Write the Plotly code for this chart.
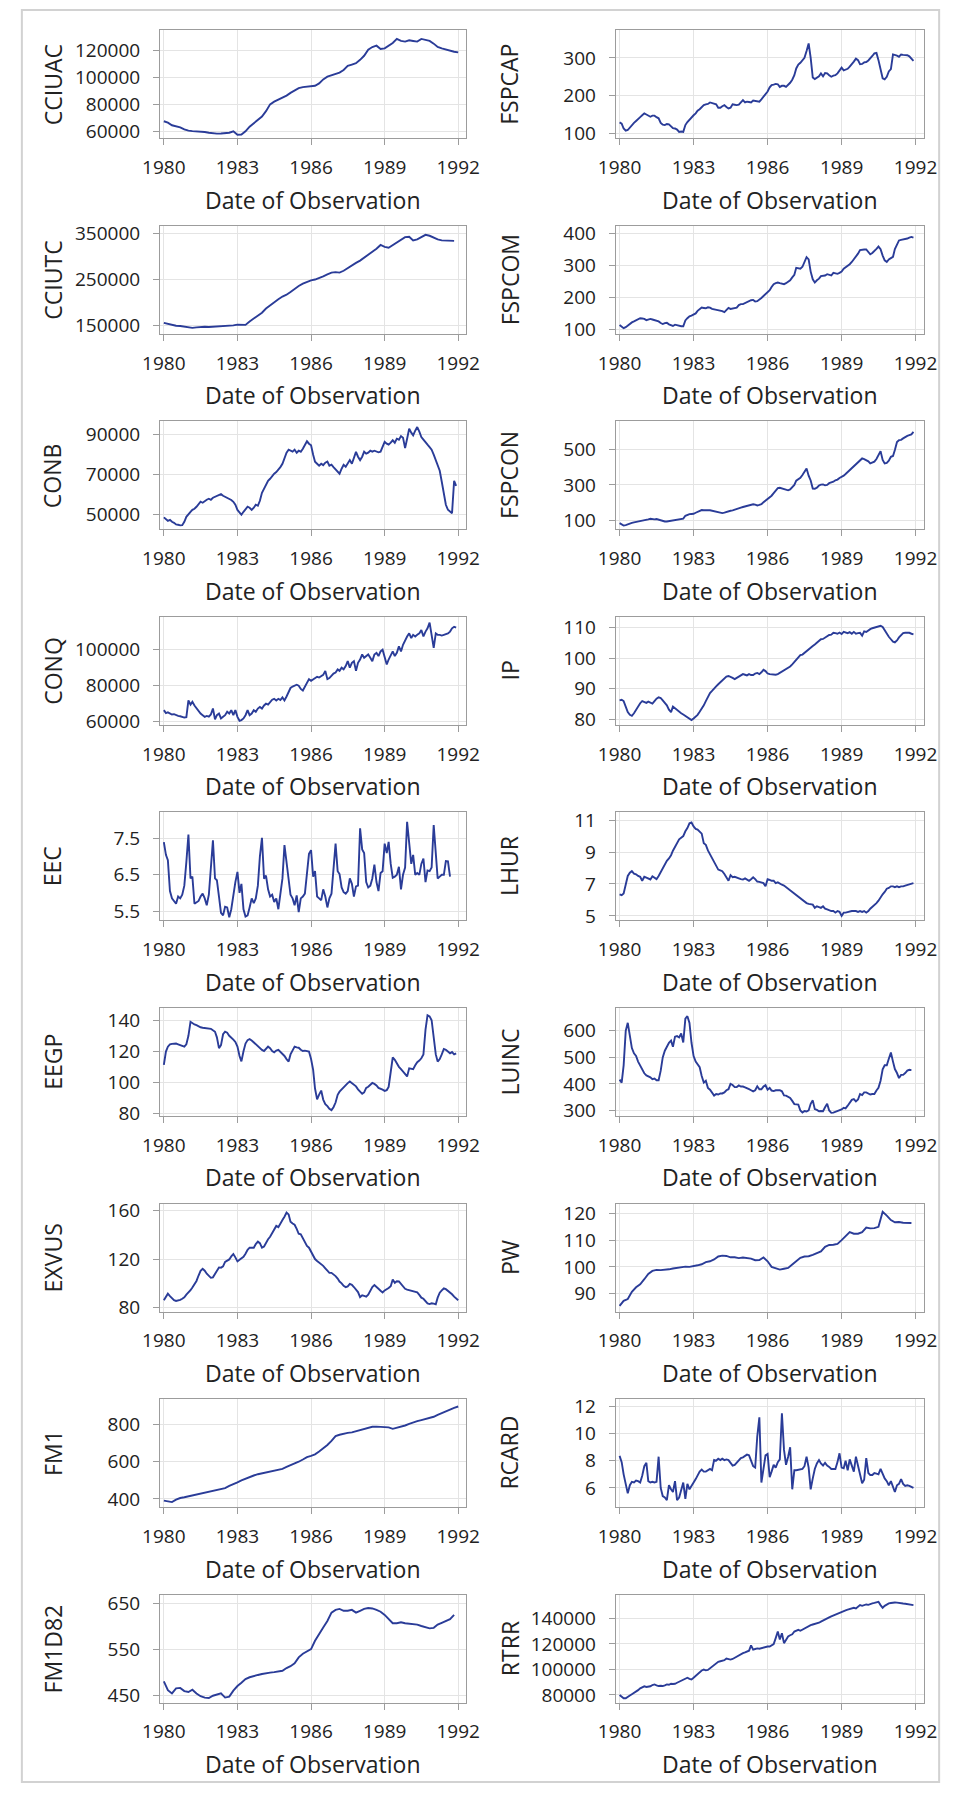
import pandas as pd
import plotly.graph_objects as go

# ---- monthly economic indicators, observations from January 1980 ----
# (values sampled every month unless a two-month step is given in PANELS)

CCIUAC = [67500, 66500, 64500, 63800, 63000, 61500,
          60500, 60200, 60000, 60100, 59500, 59000,
          58500, 58300, 58400, 58600, 59000, 60000,
          57500, 57600, 60000, 63500, 66000, 68500,
          71000, 75000, 80000, 82000, 83500, 85000,
          86500, 88500, 90500, 92000, 92800, 93200,
          93500, 93800, 95500, 98500, 100500, 101500,
          102000, 103500, 105500, 108500, 109500, 110500,
          113000, 116000, 120500, 122500, 123500, 121000,
          121500, 123500, 125500, 128500, 127000, 126500,
          127500, 127000, 126500, 128500, 128000, 127000,
          125000, 122500, 121500, 120500, 119500, 119000,
          118500]

CCIUTC = [155000, 153000, 150000, 148500, 148000, 146500,
          145000, 144000, 145000, 146000, 146500, 146000,
          146500, 147000, 146500, 147500, 148500, 149500,
          151000, 150000, 150500, 158000, 165000, 171000,
          177000, 186000, 193000, 200000, 206000, 212000,
          216000, 222000, 229000, 235000, 240000, 244000,
          247000, 249000, 252000, 256000, 260000, 264000,
          265000, 264000, 268000, 274000, 280000, 285000,
          290000, 296000, 302000, 309000, 316000, 324000,
          320000, 318000, 324000, 330000, 336000, 341000,
          342000, 334000, 336000, 341000, 346000, 344000,
          339000, 336000, 334000, 334000, 334000, 333000]

CONB = [48700, 48000, 47000, 47500, 46500, 46000, 45200, 45000, 44700, 44800, 46500, 49000,
        50000, 51500, 52500, 53000, 54000, 55500, 56500, 56000, 57000, 57500, 58000, 57500,
        58500, 59000, 59500, 60000, 60300, 59500, 59000, 58500, 57800, 57400, 56500, 55000,
        52400, 51000, 50000, 51500, 53000, 54000, 53500, 52400, 53500, 55000, 54500, 57000,
        61000, 63200, 65000, 67000, 68000, 69500, 70500, 71300, 72500, 73800, 75500, 78000,
        81000, 82500, 82000, 81500, 82500, 81000, 82000, 81500, 83000, 85000, 86700, 85500,
        84700, 80000, 76500, 75500, 74500, 75500, 74800, 76000, 76600, 74500, 75000, 73800,
        72500, 71500, 70500, 73000, 75000, 74000, 76000, 77300, 75500, 78500, 81400, 79000,
        77300, 79000, 81500, 80500, 81000, 82000, 81500, 82000, 81500, 81200, 81500, 84000,
        86400, 85500, 85000, 86000, 87200, 86000, 88000, 87500, 89300, 88500, 83300, 88000,
        93000, 91000, 89700, 92000, 93800, 91500, 88800, 87500, 86000, 85000, 83800, 82500,
        80000, 77300, 75000, 72000, 66500, 60000, 55000, 52500, 51600, 50800, 67000, 64400]

CONQ = [66400, 64800, 65200, 64500, 64000, 64200, 63600, 63200, 63000, 62700, 62300, 62500,
        71800, 69500, 71000, 69000, 67300, 65500, 64500, 63600, 62700, 63200, 62800, 64000,
        67300, 61300, 63600, 64500, 61800, 62700, 63600, 65500, 64500, 66400, 63600, 66400,
        62700, 60500, 60900, 61800, 63600, 66400, 63600, 64500, 66400, 65500, 67300, 68200,
        67300, 69000, 70000, 69500, 71000, 72200, 72700, 71800, 72700, 72000, 73500, 71800,
        74000, 76400, 78700, 79500, 80000, 80500, 80000, 78200, 77300, 79500, 81800, 83600,
        82700, 83600, 84200, 84900, 84500, 85500, 86000, 88200, 83600, 84200, 85500, 86700,
        87300, 89000, 88200, 90000, 89100, 90900, 93600, 90000, 92700, 93600, 88200, 92700,
        94500, 97300, 95500, 96400, 97300, 95500, 93600, 97300, 98200, 96400, 99000, 100000,
        95500, 91800, 94500, 97300, 99000, 96400, 98200, 101800, 99000, 102700, 105500, 107300,
        109000, 106400, 108200, 107300, 108200, 109000, 110900, 107300, 110000, 111800, 115000, 108200,
        101000, 109000, 108200, 108200, 107800, 108200, 108600, 109000, 110000, 111800, 112700, 112200]

EEC = [7.40, 7.05, 6.90, 6.05, 5.85, 5.78, 5.70, 5.90, 5.85, 5.95, 6.20, 6.85,
       7.61, 6.40, 6.45, 5.70, 5.73, 5.78, 5.90, 5.98, 5.85, 5.66, 5.95, 6.70,
       7.45, 6.40, 6.35, 5.90, 5.45, 5.38, 5.62, 5.60, 5.33, 5.55, 5.98, 6.30,
       6.58, 6.00, 6.25, 5.55, 5.35, 5.38, 5.60, 5.85, 5.72, 5.85, 6.20, 7.00,
       7.52, 6.39, 6.48, 6.10, 5.90, 5.95, 5.75, 5.85, 5.55, 5.93, 6.40, 7.32,
       6.90, 6.35, 5.95, 5.85, 5.66, 5.93, 5.47, 5.85, 5.90, 5.98, 6.60, 7.08,
       7.18, 6.45, 6.60, 5.90, 5.85, 5.80, 6.10, 5.90, 5.60, 5.85, 5.98, 6.70,
       7.36, 6.60, 6.52, 6.15, 6.02, 5.98, 6.05, 6.40, 6.25, 5.90, 6.18, 6.20,
       7.78, 7.20, 7.10, 6.30, 6.15, 6.20, 6.40, 6.78, 6.30, 6.05, 6.55, 6.60,
       7.36, 7.10, 7.41, 6.80, 6.42, 6.45, 6.50, 6.72, 6.10, 6.50, 6.70, 7.96,
       7.40, 6.80, 7.05, 6.50, 6.55, 6.50, 6.80, 6.95, 6.30, 6.62, 6.60, 6.70,
       7.87, 6.95, 6.40, 6.45, 6.50, 6.50, 6.88, 6.87, 6.45]

EEGP = [111.3, 119.8, 123.0, 124.5, 124.8, 125.0, 125.0, 124.5, 124.0, 123.0, 123.0, 124.5,
        130.0, 139.0, 138.0, 137.3, 136.8, 136.0, 135.5, 135.2, 135.0, 135.0, 134.8, 134.5,
        133.5, 132.6, 129.0, 122.0, 124.0, 131.0, 132.6, 132.0, 130.0, 129.0, 127.5, 126.0,
        123.0, 117.0, 113.5, 120.0, 125.0, 127.2, 127.8, 127.0, 125.8, 124.5, 123.0, 122.0,
        120.9, 120.2, 121.5, 123.0, 122.0, 120.2, 119.4, 120.5, 120.9, 119.5, 118.7, 117.0,
        115.0, 113.4, 118.0, 121.0, 123.0, 122.5, 122.3, 121.0, 120.2, 120.4, 120.0, 119.8,
        115.0, 108.0, 96.0, 89.0, 92.1, 94.7, 88.9, 86.0, 84.7, 83.0, 82.1, 84.0,
        87.0, 92.0, 94.0, 95.5, 96.4, 98.0, 99.5, 100.6, 99.5, 98.5, 97.4, 95.5,
        94.0, 92.6, 93.5, 96.4, 97.2, 98.5, 99.6, 99.0, 98.0, 96.4, 96.0, 95.3,
        94.5, 95.0, 97.0, 106.0, 116.0, 114.5, 112.0, 110.0, 108.5, 107.0, 105.0, 103.8,
        109.0, 108.8, 108.5, 111.0, 113.0, 114.0, 115.5, 118.0, 134.0, 143.2, 142.5, 140.0,
        130.0, 118.0, 113.4, 115.0, 118.0, 121.5, 121.0, 119.5, 118.7, 119.5, 118.0, 118.7]

EXVUS = [86.0, 88.7, 91.5, 89.5, 87.8, 86.2, 85.5, 85.8, 86.4, 87.3, 88.5, 90.7,
         92.3, 94.3, 96.6, 99.0, 102.0, 106.5, 110.3, 112.0, 110.5, 108.0, 106.2, 104.6,
         105.0, 107.5, 110.5, 113.2, 113.0, 114.0, 117.8, 119.2, 119.8, 122.3, 124.2, 121.5,
         118.2, 119.6, 121.0, 122.0, 124.5, 127.8, 129.5, 129.5, 129.5, 132.5, 134.5, 133.2,
         129.5, 130.5, 134.0, 136.5, 138.5, 141.5, 145.5, 147.5, 146.5, 149.8, 152.4, 155.1,
         158.6, 157.0, 151.0, 149.5, 148.5, 145.0, 141.0, 140.5, 137.5, 133.5, 131.0, 129.5,
         126.5, 123.7, 120.1, 118.5, 117.3, 116.0, 114.5, 112.5, 110.5, 108.7, 108.7, 107.6,
         106.0, 104.0, 101.5, 100.0, 98.0, 96.9, 97.5, 99.5, 98.8, 97.0, 95.0, 92.8,
         88.7, 90.2, 89.6, 89.0, 90.7, 93.5, 97.0, 98.6, 97.4, 95.5, 93.9, 92.5,
         94.2, 95.0, 96.2, 97.7, 103.2, 100.5, 101.8, 101.6, 99.5, 97.0, 95.5, 94.8,
         94.2, 94.0, 93.5, 92.8, 92.5, 90.5, 88.2, 87.3, 85.5, 83.5, 82.9, 83.5,
         83.3, 82.7, 88.2, 92.3, 94.2, 95.8, 95.2, 93.9, 92.5, 91.0, 89.0, 87.5,
         86.0]

FM1 = [391, 389, 383, 396, 405, 409, 414, 419, 422, 428, 432, 438,
       444, 448, 451, 458, 470, 478, 489, 500, 510, 519, 526, 533,
       538, 545, 550, 556, 560, 562, 572, 580, 590, 600, 612, 625,
       632, 640, 655, 672, 690, 712, 738, 745, 752, 755, 758, 764,
       770, 778, 783, 788, 789, 789, 788, 785, 777, 782, 787, 795,
       804, 812, 818, 824, 830, 835, 842, 852, 862, 870, 880, 890,
       897]

FM1D82 = [481, 462, 455, 466, 467, 460, 458, 463, 455, 449, 446, 445,
          450, 452, 455, 446, 448, 461, 471, 478, 486, 490, 493, 495,
          497, 499, 500, 501, 502, 504, 510, 514, 520, 533, 541, 546,
          551, 569, 585, 598, 612, 630, 636, 638, 634, 634, 636, 630,
          634, 638, 640, 639, 636, 632, 625, 617, 607, 607, 609, 607,
          606, 605, 604, 601, 598, 596, 597, 604, 608, 612, 616, 625]

FSPCAP = [129, 126, 113, 107, 109, 116, 122, 128, 133, 139, 143, 148,
          153, 150, 146, 144, 147, 147, 143, 140, 128, 123, 122, 125,
          124, 118, 114, 113, 110, 104, 105, 104, 122, 130, 137, 143,
          148, 153, 160, 164, 170, 175, 177, 178, 182, 181, 178, 177,
          168, 168, 172, 175, 170, 166, 168, 177, 176, 175, 176, 183,
          188, 182, 184, 183, 182, 187, 186, 184, 184, 190, 197, 205,
          211, 222, 228, 229, 231, 230, 223, 226, 226, 223, 228, 234,
          242, 254, 272, 282, 287, 293, 300, 318, 338, 300, 248, 244,
          247, 251, 259, 251, 260, 259, 254, 250, 253, 254, 259, 267,
          274, 267, 268, 271, 277, 283, 290, 298, 294, 283, 284, 288,
          289, 293, 298, 305, 312, 313, 294, 266, 246, 243, 250, 264,
          270, 309, 308, 306, 303, 309, 308, 307, 307, 304, 299, 292]

FSPCOM = [114, 110, 104, 107, 112, 118, 122, 125, 128, 132, 135, 134,
          133, 129, 132, 133, 131, 129, 127, 125, 120, 117, 120, 121,
          116, 112, 111, 115, 113, 111, 110, 110, 128, 135, 141, 143,
          146, 150, 158, 164, 168, 167, 166, 169, 168, 164, 163, 162,
          159, 158, 157, 154, 162, 167, 164, 166, 166, 168, 176, 179,
          179, 182, 184, 189, 191, 192, 187, 188, 192, 198, 204, 210,
          216, 222, 232, 241, 244, 246, 244, 243, 241, 244, 248, 253,
          262, 270, 292, 290, 289, 295, 308, 325, 318, 280, 256, 246,
          253, 258, 266, 266, 268, 272, 270, 268, 276, 275, 273, 276,
          280, 289, 293, 297, 303, 310, 318, 326, 336, 347, 349, 349,
          349, 340, 334, 338, 343, 351, 358, 350, 330, 315, 310, 318,
          322, 326, 350, 366, 377, 379, 380, 380, 383, 386, 388, 386]

FSPCON = [87, 79, 74, 76, 81, 85, 88, 91, 93, 94, 96, 98,
          101, 105, 108, 111, 108, 108, 110, 106, 100, 96, 96, 96,
          98, 100, 100, 104, 106, 106, 108, 112, 128, 133, 137, 138,
          139, 145, 150, 156, 160, 159, 157, 159, 159, 156, 154, 150,
          147, 143, 143, 146, 150, 156, 156, 158, 161, 164, 166, 173,
          177, 180, 184, 187, 189, 192, 190, 186, 189, 193, 203, 212,
          220, 230, 240, 254, 266, 282, 284, 280, 276, 270, 270, 275,
          290, 300, 324, 330, 340, 356, 378, 392, 352, 325, 280, 279,
          285, 297, 302, 303, 298, 300, 310, 313, 318, 326, 330, 339,
          345, 352, 361, 372, 380, 392, 405, 415, 426, 440, 448, 444,
          440, 432, 421, 425, 430, 445, 465, 489, 440, 420, 423, 435,
          457, 462, 495, 540, 550, 552, 560, 568, 574, 578, 582, 596]

IP = [86.2, 86.4, 86.0, 84.0, 82.4, 81.5, 81.2, 82.0, 83.2, 84.3, 85.3, 86.0,
      85.7, 85.4, 85.8, 85.5, 85.2, 86.0, 86.8, 87.2, 87.0, 86.2, 85.4, 84.6,
      83.2, 82.4, 84.2, 83.6, 83.0, 82.5, 82.0, 81.6, 81.1, 80.6, 80.2, 79.8,
      80.3, 80.8, 81.5, 82.5, 83.5, 84.6, 86.0, 87.5, 88.6, 89.3, 89.9, 90.8,
      91.5, 92.2, 92.8, 93.6, 94.0, 94.2, 94.0, 93.6, 93.2, 93.6, 94.2, 94.6,
      94.8, 94.6, 94.4, 94.8, 94.5, 94.5, 95.0, 95.2, 94.8, 95.4, 96.2, 95.8,
      95.0, 94.8, 94.7, 94.5, 94.6, 94.8, 95.2, 95.6, 96.0, 96.6, 96.8, 97.3,
      98.0, 98.8, 99.5, 100.4, 101.0, 101.2, 101.8, 102.5, 102.9, 103.5, 104.0, 104.5,
      105.0, 105.5, 106.2, 106.3, 106.8, 107.2, 107.6, 107.7, 108.3, 108.2, 108.0, 108.4,
      107.9, 108.6, 108.4, 108.2, 108.5, 108.0, 108.6, 108.0, 108.2, 108.3, 107.4, 108.8,
      108.6, 109.2, 109.5, 109.8, 110.0, 110.3, 110.5, 110.6, 110.2, 109.0, 107.8, 107.0,
      106.2, 105.4, 105.2, 105.8, 106.8, 107.5, 108.2, 108.3, 108.4, 108.3, 108.0, 107.8]

LHUR = [6.35, 6.30, 6.40, 7.00, 7.50, 7.70, 7.80, 7.65, 7.60, 7.50, 7.45, 7.20,
        7.45, 7.40, 7.35, 7.28, 7.48, 7.38, 7.30, 7.50, 7.75, 8.00, 8.20, 8.45,
        8.60, 8.80, 9.08, 9.30, 9.50, 9.80, 9.90, 10.00, 10.30, 10.50, 10.80, 10.85,
        10.60, 10.45, 10.40, 10.30, 10.15, 9.55, 9.45, 9.10, 8.85, 8.60, 8.30, 8.10,
        7.90, 7.85, 7.80, 7.62, 7.45, 7.20, 7.55, 7.42, 7.45, 7.38, 7.35, 7.30,
        7.28, 7.35, 7.30, 7.20, 7.30, 7.42, 7.30, 7.15, 7.13, 7.10, 7.05, 6.85,
        7.30, 7.25, 7.20, 7.20, 7.05, 7.10, 7.00, 6.95, 6.90, 6.80, 6.75, 6.60,
        6.55, 6.40, 6.30, 6.20, 6.10, 6.00, 5.90, 5.80, 5.75, 5.72, 5.70, 5.50,
        5.60, 5.55, 5.50, 5.60, 5.45, 5.40, 5.35, 5.30, 5.30, 5.20, 5.30, 5.25,
        5.00, 5.20, 5.20, 5.25, 5.25, 5.30, 5.30, 5.30, 5.25, 5.30, 5.25, 5.30,
        5.20, 5.30, 5.45, 5.55, 5.70, 5.80, 5.95, 6.20, 6.35, 6.50, 6.70, 6.75,
        6.85, 6.85, 6.80, 6.85, 6.80, 6.85, 6.85, 6.90, 6.95, 7.00, 7.00, 7.05]

LUINC = [416, 405, 470, 600, 630, 575, 535, 515, 505, 484, 470, 452,
         440, 432, 430, 425, 418, 420, 414, 414, 450, 500, 525, 540,
         555, 563, 540, 578, 580, 575, 590, 556, 646, 655, 630, 555,
         505, 484, 475, 463, 430, 405, 412, 385, 378, 366, 356, 362,
         360, 364, 364, 368, 376, 380, 400, 396, 388, 388, 394, 390,
         390, 387, 385, 380, 376, 372, 376, 391, 380, 380, 390, 395,
         378, 385, 375, 373, 376, 377, 376, 372, 357, 356, 352, 347,
         336, 324, 323, 322, 300, 292, 298, 296, 300, 325, 338, 305,
         302, 297, 298, 297, 312, 325, 300, 291, 292, 295, 296, 300,
         304, 310, 308, 318, 328, 340, 343, 334, 341, 362, 358, 368,
         368, 362, 360, 362, 362, 375, 385, 412, 455, 470, 470, 495,
         518, 484, 456, 441, 422, 434, 434, 441, 450, 453, 452]

PW = [85.4, 87.3, 88.0, 90.7, 92.4, 93.5, 95.4, 97.4, 98.5, 98.9, 98.8, 98.9,
      99.1, 99.4, 99.7, 100.0, 100.1, 100.0, 100.2, 100.6, 101.0, 101.8, 102.1, 102.8,
      103.9, 104.2, 104.1, 103.6, 103.6, 103.3, 103.5, 103.3, 103.1, 102.5, 102.6, 103.5,
      102.1, 100.0, 99.6, 99.0, 99.3, 99.6, 100.9, 102.3, 103.4, 103.9, 104.0, 104.5,
      105.1, 105.8, 107.5, 108.2, 108.3, 108.6, 110.0, 111.5, 113.0, 112.4, 112.4, 113.0,
      114.7, 114.4, 114.5, 115.0, 120.6, 119.2, 117.5, 116.7, 116.8, 116.5, 116.5, 116.4]

RCARD = [8.36, 7.90, 7.00, 6.40, 5.60, 6.20, 6.45, 6.40, 6.55, 6.50, 6.40, 6.90,
         7.60, 7.85, 6.50, 6.40, 6.45, 6.40, 6.45, 8.30, 6.00, 5.40, 5.30, 5.10,
         6.20, 5.90, 5.70, 6.50, 5.10, 5.30, 5.80, 6.40, 5.20, 6.30, 5.90, 6.20,
         6.40, 6.65, 6.90, 7.20, 7.35, 7.20, 7.20, 7.30, 7.40, 7.30, 8.05, 8.00,
         8.15, 8.05, 8.15, 8.05, 8.10, 8.05, 7.85, 7.65, 7.70, 7.85, 8.05, 8.20,
         8.25, 8.36, 8.45, 8.40, 7.95, 7.60, 7.50, 9.80, 11.20, 6.40, 7.40, 8.40,
         8.50, 6.80, 7.20, 7.70, 7.50, 7.90, 8.10, 11.50, 8.80, 7.70, 8.30, 9.00,
         5.90, 7.30, 7.30, 7.35, 7.40, 7.40, 7.60, 8.30, 7.50, 5.90, 6.70, 7.40,
         7.80, 8.05, 7.80, 7.65, 7.85, 7.65, 7.55, 7.40, 7.40, 7.40, 7.90, 8.55,
         7.50, 7.45, 8.00, 7.30, 8.10, 7.70, 7.20, 8.30, 7.60, 7.00, 6.35, 6.60,
         8.20, 7.10, 6.95, 6.95, 7.10, 7.05, 7.00, 7.40, 7.00, 6.70, 6.50, 6.20,
         6.50, 6.10, 5.70, 6.20, 6.30, 6.65, 6.30, 6.15, 6.20, 6.15, 6.05, 6.00]

RTRR = [80000, 78800, 77400, 77400, 78200, 79600, 80600, 81500, 82700, 83800, 85200, 86200,
        86800, 86300, 86400, 86800, 87800, 88300, 87600, 87000, 87200, 87000, 87600, 88300,
        88000, 88800, 88600, 88800, 89600, 90300, 90900, 92000, 92800, 93500, 92600, 92200,
        93500, 95000, 96600, 98400, 99200, 99900, 99300, 99600, 101000, 102600, 104000, 105200,
        106000, 106400, 106700, 107200, 108500, 107800, 107700, 108200, 109200, 110300, 111000, 111800,
        112700, 113300, 114000, 114700, 118800, 115500, 116000, 116500, 116200, 116700, 117200, 117800,
        118000, 118000, 119000, 119800, 124500, 129700, 123500, 128400, 120600, 123500, 125800, 126800,
        127500, 129700, 130500, 131000, 130300, 131200, 132300, 133400, 134000, 134700, 135200, 135600,
        136100, 136600, 137500, 138500, 139300, 140000, 140800, 141600, 142300, 142800, 143400, 144700,
        145200, 145700, 146300, 146800, 147300, 148000, 148300, 147800, 149000, 150400, 149800, 150300,
        150900, 150600, 151300, 151700, 152100, 152400, 153000, 150400, 148300, 149800, 150900, 151700,
        152000, 152400, 152400, 152300, 151900, 151700, 151600, 151400, 151200, 150900, 150700, 150400]

YEAR_TICKS = [1980, 1983, 1986, 1989, 1992]

# name, values, months between observations, y-axis range, y-axis ticks
PANELS = [
    ("CCIUAC", CCIUAC, 2, [54850, 134900], [60000, 80000, 100000, 120000]),
    ("CCIUTC", CCIUTC, 2, [131000, 365600], [150000, 250000, 350000]),
    ("CONB", CONB, 1, [42700, 96650], [50000, 70000, 90000]),
    ("CONQ", CONQ, 1, [58200, 118150], [60000, 80000, 100000]),
    ("EEC", EEC, 1, [5.24, 8.22], [5.5, 6.5, 7.5]),
    ("EEGP", EEGP, 1, [78.3, 147.9], [80, 100, 120, 140]),
    ("EXVUS", EXVUS, 1, [76.7, 166], [80, 120, 160]),
    ("FM1", FM1, 2, [356, 937], [400, 600, 800]),
    ("FM1D82", FM1D82, 2, [435, 669], [450, 550, 650]),
    ("FSPCAP", FSPCAP, 1, [87, 373], [100, 200, 300]),
    ("FSPCOM", FSPCOM, 1, [86.4, 422.5], [100, 200, 300, 400]),
    ("FSPCON", FSPCON, 1, [52, 655], [100, 300, 500]),
    ("IP", IP, 1, [78.2, 113.5], [80, 90, 100, 110]),
    ("LHUR", LHUR, 1, [4.71, 11.48], [5, 7, 9, 11]),
    ("LUINC", LUINC, 1, [279, 686], [300, 400, 500, 600]),
    ("PW", PW, 2, [83.3, 123.7], [90, 100, 110, 120]),
    ("RCARD", RCARD, 1, [4.59, 12.54], [6, 8, 10, 12]),
    ("RTRR", RTRR, 1, [74000, 158600], [80000, 100000, 120000, 140000]),
]

# ---- page geometry (pixels) ----
W, H = 956, 1796
COL_X = [(146.7, 463.3), (617.7, 936.0)]   # plot-area left/right per column
COL_LABEL_X = [36, 508]                     # centre of the rotated y label
ROW_TOP0, ROW_PITCH, ROW_H = 24.5, 197.3, 109
X_RANGE = ["1979-11-04", "1992-04-30"]

LINE_COLOR = "#2a3c98"
FRAME_COLOR = "#9c9c9c"
GRID_COLOR = "#e4e4e4"
TEXT_COLOR = "#222222"
FONT = "Open Sans"
TICK_SIZE = 19
TITLE_SIZE = 23

fig = go.Figure()
layout = {}
annotations = []

for k, (name, vals, step, yrange, yticks) in enumerate(PANELS, start=1):
    col, row = divmod(k - 1, 9)
    top = ROW_TOP0 + ROW_PITCH * row
    bottom = top + ROW_H
    x0, x1 = COL_X[col]
    dates = pd.date_range("1980-01-01", periods=len(vals), freq=f"{step}MS")

    fig.add_trace(go.Scatter(
        x=dates, y=vals, mode="lines",
        line=dict(color=LINE_COLOR, width=1.9),
        xaxis=f"x{k}", yaxis=f"y{k}", showlegend=False, hoverinfo="skip",
    ))

    common = dict(
        showline=True, mirror=True, linecolor=FRAME_COLOR, linewidth=1,
        showgrid=True, gridcolor=GRID_COLOR, gridwidth=1, zeroline=False,
        ticks="outside", ticklen=6, tickwidth=1, tickcolor=FRAME_COLOR,
        tickfont=dict(family=FONT, size=TICK_SIZE, color=TEXT_COLOR),
        fixedrange=True,
    )
    layout[f"xaxis{k}"] = dict(
        common, domain=[x0 / W, x1 / W], anchor=f"y{k}", type="date",
        range=X_RANGE,
        tickvals=[f"{y}-01-01" for y in YEAR_TICKS],
        ticktext=[str(y) for y in YEAR_TICKS],
        ticklabelstandoff=6,
    )
    layout[f"yaxis{k}"] = dict(
        common, domain=[1 - bottom / H, 1 - top / H], anchor=f"x{k}",
        range=yrange, tickvals=yticks, ticktext=[f"{v:g}" for v in yticks],
        ticklabelstandoff=9,
    )

    annotations.append(dict(
        text="Date of Observation", xref="paper", yref="paper",
        x=(x0 + x1) / 2 / W, y=1 - (bottom + 62) / H,
        xanchor="center", yanchor="middle", showarrow=False,
        font=dict(family=FONT, size=TITLE_SIZE, color=TEXT_COLOR),
    ))
    annotations.append(dict(
        text=name, xref="paper", yref="paper", textangle=-90,
        x=COL_LABEL_X[col] / W, y=1 - (top + bottom) / 2 / H,
        xanchor="center", yanchor="middle", showarrow=False,
        font=dict(family=FONT, size=TITLE_SIZE, color=TEXT_COLOR),
    ))

fig.update_layout(
    width=W, height=H, margin=dict(l=0, r=0, t=0, b=0),
    paper_bgcolor="white", plot_bgcolor="white",
    annotations=annotations, hovermode=False,
    shapes=[dict(type="rect", xref="paper", yref="paper",
                 x0=4 / W, x1=1 - 4 / W, y0=4 / H, y1=1 - 4 / H,
                 line=dict(color="#d2d2d2", width=2), fillcolor="rgba(0,0,0,0)",
                 layer="below")],
    **layout,
)

fig.write_html("out.html", config={"displayModeBar": False})
